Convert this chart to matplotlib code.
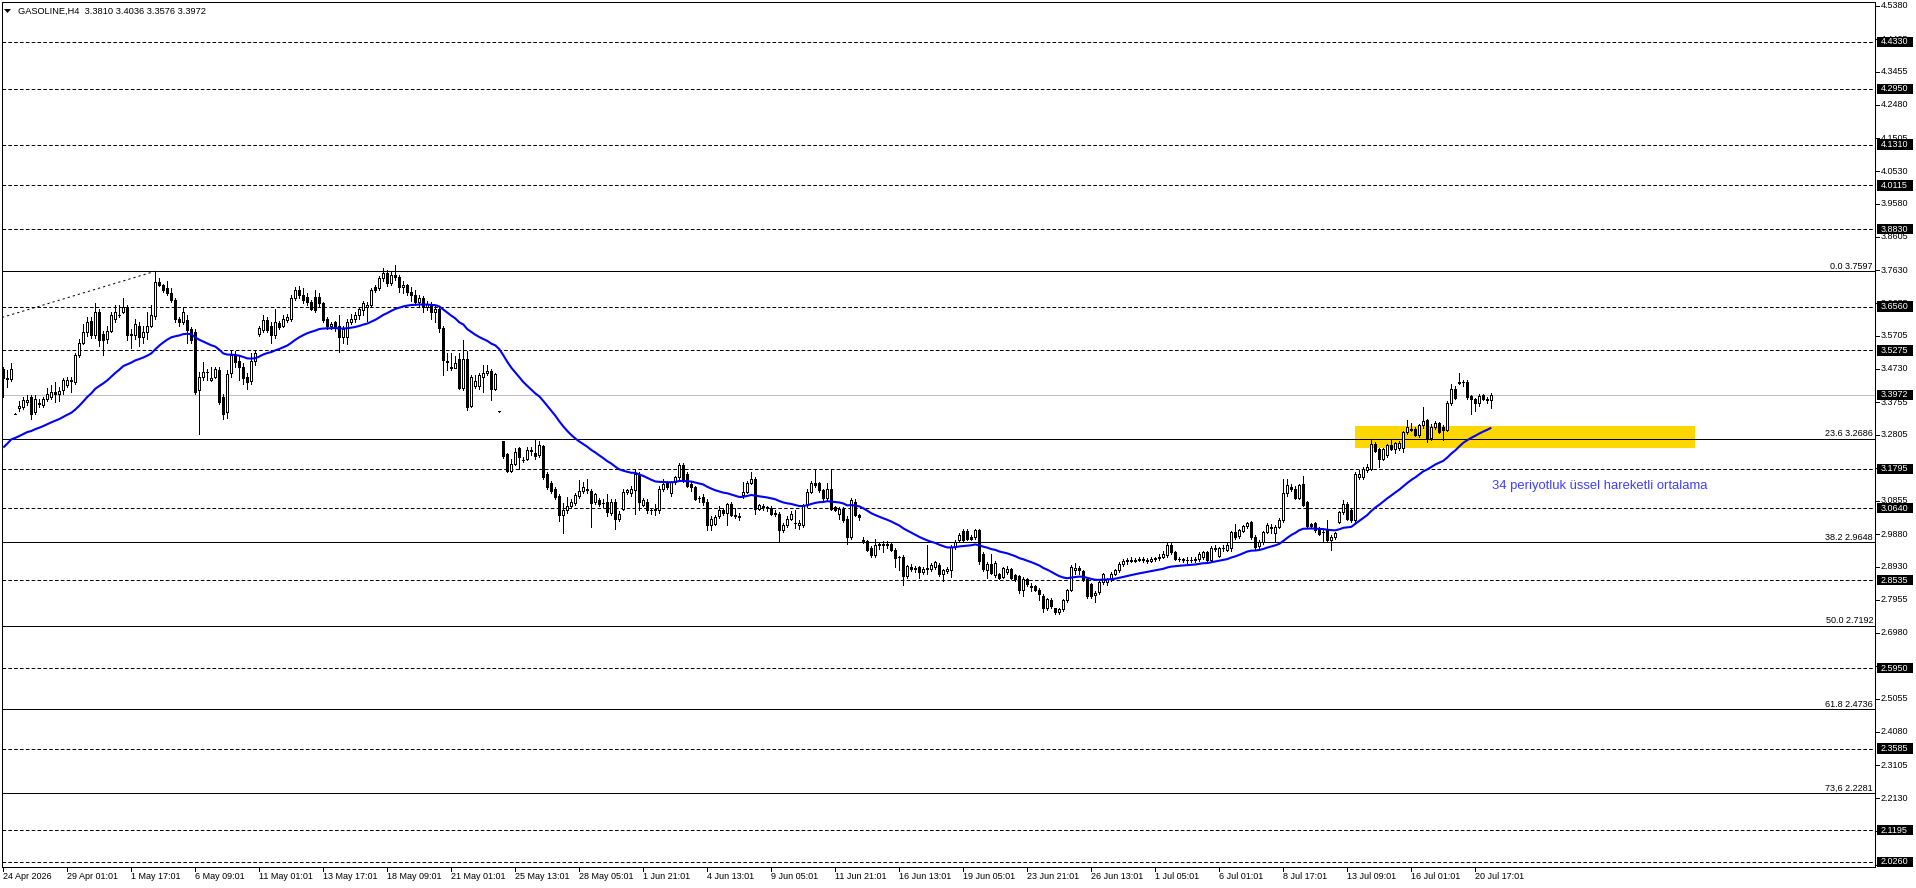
import numpy as np
import matplotlib.pyplot as plt
from matplotlib.patches import Rectangle, Polygon

plt.rcParams['font.family'] = ['Liberation Sans', 'DejaVu Sans']
plt.rcParams['lines.scale_dashes'] = False

# --- data: GASOLINE H4 candles ---
opens = [
    3.474, 3.445, 3.443, 3.342, 3.357, 3.362, 3.376, 3.391, 3.347, 3.374,
    3.366, 3.385, 3.390, 3.405, 3.400, 3.410, 3.425, 3.440, 3.435, 3.513,
    3.550, 3.580, 3.614, 3.572, 3.640, 3.575, 3.560, 3.585, 3.620, 3.632,
    3.640, 3.655, 3.572, 3.572, 3.600, 3.567, 3.582, 3.600, 3.628, 3.729,
    3.720, 3.710, 3.695, 3.675, 3.620, 3.612, 3.617, 3.590, 3.580, 3.410,
    3.450, 3.465, 3.440, 3.450, 3.470, 3.390, 3.347, 3.460, 3.510, 3.497,
    3.480, 3.450, 3.437, 3.496, 3.574, 3.586, 3.616, 3.600, 3.572, 3.607,
    3.600, 3.617, 3.620, 3.680, 3.704, 3.690, 3.684, 3.670, 3.685, 3.684,
    3.665, 3.620, 3.600, 3.610, 3.600, 3.567, 3.567, 3.610, 3.620, 3.630,
    3.645, 3.655, 3.660, 3.712, 3.710, 3.740, 3.755, 3.725, 3.750, 3.742,
    3.712, 3.718, 3.700, 3.690, 3.668, 3.682, 3.655, 3.664, 3.640, 3.650,
    3.592, 3.497, 3.480, 3.477, 3.503, 3.418, 3.503, 3.364, 3.423, 3.422,
    3.450, 3.460, 3.467, 3.415, 3.349, 3.261, 3.222, 3.173, 3.195, 3.240,
    3.207, 3.210, 3.234, 3.227, 3.219, 3.246, 3.165, 3.138, 3.120, 3.100,
    3.043, 3.058, 3.072, 3.080, 3.100, 3.114, 3.120, 3.115, 3.082, 3.088,
    3.080, 3.083, 3.050, 3.083, 3.033, 3.063, 3.112, 3.108, 3.117, 3.166,
    3.075, 3.083, 3.058, 3.058, 3.058, 3.122, 3.138, 3.110, 3.140, 3.156,
    3.192, 3.166, 3.134, 3.127, 3.093, 3.098, 3.083, 3.014, 3.018, 3.040,
    3.058, 3.050, 3.077, 3.045, 3.040, 3.102, 3.112, 3.139, 3.151, 3.063,
    3.070, 3.068, 3.065, 3.048, 3.048, 2.999, 3.014, 3.034, 3.022, 3.014,
    3.014, 3.073, 3.112, 3.137, 3.137, 3.117, 3.093, 3.122, 3.068, 3.048,
    3.063, 3.034, 2.980, 3.083, 3.044, 2.972, 2.967, 2.948, 2.926, 2.955,
    2.957, 2.958, 2.958, 2.943, 2.920, 2.922, 2.864, 2.893, 2.886, 2.892,
    2.877, 2.887, 2.887, 2.892, 2.897, 2.872, 2.879, 2.884, 2.950, 2.970,
    2.996, 2.996, 2.980, 2.980, 3.000, 2.930, 2.882, 2.901, 2.868, 2.870,
    2.862, 2.878, 2.885, 2.867, 2.864, 2.823, 2.857, 2.833, 2.836, 2.825,
    2.808, 2.770, 2.796, 2.770, 2.760, 2.767, 2.794, 2.825, 2.884, 2.888,
    2.880, 2.857, 2.842, 2.810, 2.817, 2.848, 2.848, 2.855, 2.872, 2.882,
    2.901, 2.908, 2.912, 2.910, 2.913, 2.914, 2.911, 2.909, 2.915, 2.917,
    2.921, 2.926, 2.955, 2.935, 2.916, 2.914, 2.911, 2.913, 2.912, 2.914,
    2.920, 2.935, 2.911, 2.944, 2.925, 2.946, 2.943, 2.946, 2.995, 2.982,
    2.998, 3.011, 3.023, 2.980, 2.952, 2.965, 2.995, 3.010, 2.992, 3.010,
    3.031, 3.109, 3.125, 3.122, 3.093, 3.134, 3.082, 3.018, 3.021, 3.004,
    2.995, 3.000, 2.970, 2.980, 3.024, 3.053, 3.078, 3.058, 3.030, 3.156,
    3.156, 3.176, 3.180, 3.252, 3.239, 3.210, 3.220, 3.249, 3.239, 3.240,
    3.240, 3.288, 3.298, 3.298, 3.279, 3.308, 3.323, 3.269, 3.303, 3.313,
    3.303, 3.295, 3.373, 3.415, 3.432, 3.435, 3.435, 3.393, 3.386, 3.373,
    3.396, 3.384, 3.3810,
]
highs = [
    3.480, 3.470, 3.490, 3.344, 3.378, 3.390, 3.395, 3.395, 3.396, 3.386,
    3.390, 3.418, 3.426, 3.435, 3.420, 3.447, 3.450, 3.450, 3.520, 3.560,
    3.605, 3.625, 3.625, 3.665, 3.650, 3.585, 3.600, 3.640, 3.660, 3.660,
    3.680, 3.660, 3.590, 3.620, 3.610, 3.600, 3.640, 3.660, 3.760, 3.740,
    3.722, 3.730, 3.710, 3.680, 3.625, 3.655, 3.630, 3.595, 3.590, 3.465,
    3.494, 3.474, 3.480, 3.480, 3.480, 3.400, 3.470, 3.525, 3.525, 3.510,
    3.490, 3.460, 3.520, 3.525, 3.600, 3.630, 3.625, 3.610, 3.650, 3.615,
    3.632, 3.635, 3.690, 3.712, 3.715, 3.710, 3.695, 3.675, 3.705, 3.695,
    3.670, 3.625, 3.610, 3.615, 3.630, 3.600, 3.620, 3.635, 3.640, 3.655,
    3.672, 3.670, 3.710, 3.720, 3.745, 3.770, 3.762, 3.760, 3.778, 3.750,
    3.730, 3.722, 3.712, 3.705, 3.690, 3.688, 3.672, 3.668, 3.660, 3.655,
    3.600, 3.520, 3.520, 3.510, 3.520, 3.557, 3.527, 3.455, 3.455, 3.460,
    3.484, 3.484, 3.474, 3.460, 3.350, 3.262, 3.225, 3.210, 3.240, 3.245,
    3.215, 3.245, 3.245, 3.265, 3.260, 3.250, 3.170, 3.145, 3.125, 3.105,
    3.080, 3.097, 3.090, 3.110, 3.146, 3.140, 3.150, 3.120, 3.110, 3.095,
    3.090, 3.107, 3.090, 3.090, 3.055, 3.120, 3.122, 3.130, 3.175, 3.170,
    3.095, 3.090, 3.066, 3.078, 3.130, 3.150, 3.145, 3.145, 3.160, 3.197,
    3.197, 3.170, 3.140, 3.130, 3.100, 3.107, 3.090, 3.040, 3.045, 3.070,
    3.065, 3.080, 3.082, 3.065, 3.050, 3.140, 3.143, 3.171, 3.155, 3.078,
    3.078, 3.072, 3.070, 3.058, 3.052, 3.020, 3.040, 3.055, 3.058, 3.030,
    3.078, 3.120, 3.145, 3.176, 3.142, 3.120, 3.137, 3.176, 3.072, 3.068,
    3.068, 3.040, 3.093, 3.090, 3.048, 2.980, 2.972, 2.952, 2.975, 2.965,
    2.968, 2.968, 2.962, 2.948, 2.925, 2.926, 2.898, 2.900, 2.895, 2.896,
    2.892, 2.955, 2.902, 2.910, 2.902, 2.885, 2.892, 2.955, 2.970, 2.990,
    3.004, 3.002, 2.985, 3.004, 3.004, 2.935, 2.905, 2.930, 2.908, 2.875,
    2.892, 2.895, 2.890, 2.870, 2.868, 2.862, 2.860, 2.845, 2.840, 2.830,
    2.812, 2.802, 2.800, 2.772, 2.770, 2.798, 2.828, 2.897, 2.902, 2.896,
    2.884, 2.862, 2.846, 2.820, 2.850, 2.875, 2.860, 2.878, 2.885, 2.905,
    2.915, 2.918, 2.922, 2.918, 2.922, 2.920, 2.918, 2.920, 2.922, 2.930,
    2.940, 2.962, 2.962, 2.938, 2.922, 2.918, 2.920, 2.920, 2.922, 2.935,
    2.940, 2.938, 2.952, 2.955, 2.950, 2.955, 2.965, 2.998, 3.018, 3.003,
    3.015, 3.025, 3.028, 2.985, 2.970, 2.998, 3.020, 3.018, 3.015, 3.035,
    3.150, 3.150, 3.135, 3.130, 3.135, 3.160, 3.085, 3.022, 3.025, 3.008,
    3.000, 3.030, 2.985, 2.995, 3.055, 3.088, 3.082, 3.065, 3.170, 3.175,
    3.185, 3.195, 3.264, 3.258, 3.242, 3.242, 3.252, 3.264, 3.258, 3.260,
    3.292, 3.323, 3.313, 3.302, 3.312, 3.362, 3.326, 3.310, 3.320, 3.318,
    3.308, 3.380, 3.430, 3.422, 3.460, 3.441, 3.440, 3.395, 3.388, 3.400,
    3.398, 3.391, 3.4036,
]
lows = [
    3.392, 3.420, 3.438, 3.340, 3.350, 3.356, 3.368, 3.327, 3.340, 3.362,
    3.360, 3.378, 3.385, 3.376, 3.378, 3.400, 3.420, 3.405, 3.430, 3.507,
    3.545, 3.570, 3.565, 3.565, 3.540, 3.513, 3.550, 3.580, 3.610, 3.625,
    3.636, 3.557, 3.533, 3.560, 3.540, 3.550, 3.560, 3.595, 3.620, 3.715,
    3.700, 3.690, 3.670, 3.610, 3.600, 3.605, 3.548, 3.550, 3.400, 3.283,
    3.440, 3.440, 3.438, 3.445, 3.370, 3.327, 3.330, 3.450, 3.480, 3.440,
    3.430, 3.415, 3.430, 3.485, 3.570, 3.580, 3.580, 3.550, 3.565, 3.590,
    3.595, 3.610, 3.615, 3.675, 3.680, 3.665, 3.660, 3.645, 3.640, 3.655,
    3.610, 3.590, 3.590, 3.585, 3.523, 3.550, 3.545, 3.605, 3.610, 3.620,
    3.630, 3.615, 3.655, 3.700, 3.705, 3.730, 3.715, 3.720, 3.735, 3.700,
    3.695, 3.690, 3.672, 3.660, 3.655, 3.640, 3.645, 3.620, 3.610, 3.580,
    3.455, 3.470, 3.470, 3.475, 3.414, 3.410, 3.353, 3.360, 3.417, 3.415,
    3.405, 3.455, 3.383, 3.410, 3.348, 3.212, 3.170, 3.170, 3.190, 3.180,
    3.200, 3.205, 3.220, 3.210, 3.215, 3.150, 3.120, 3.110, 3.090, 3.028,
    2.990, 3.050, 3.065, 3.075, 3.095, 3.110, 3.110, 3.009, 3.078, 3.070,
    3.068, 3.040, 3.045, 3.004, 3.028, 3.060, 3.105, 3.100, 3.048, 3.060,
    3.070, 3.050, 3.048, 3.043, 3.050, 3.115, 3.120, 3.100, 3.135, 3.150,
    3.140, 3.125, 3.115, 3.087, 3.083, 3.073, 3.000, 2.999, 3.015, 3.035,
    3.045, 3.014, 3.040, 3.035, 3.030, 3.095, 3.108, 3.135, 3.048, 3.058,
    3.060, 3.055, 3.045, 3.040, 2.965, 2.995, 3.010, 3.030, 3.005, 3.002,
    3.010, 3.068, 3.108, 3.125, 3.112, 3.088, 3.088, 3.058, 3.055, 3.034,
    3.025, 2.960, 2.975, 3.040, 3.030, 2.962, 2.940, 2.920, 2.922, 2.945,
    2.935, 2.946, 2.938, 2.892, 2.882, 2.838, 2.860, 2.880, 2.878, 2.858,
    2.870, 2.872, 2.880, 2.885, 2.865, 2.852, 2.875, 2.862, 2.945, 2.965,
    2.965, 2.970, 2.970, 2.975, 2.900, 2.880, 2.858, 2.870, 2.862, 2.855,
    2.858, 2.870, 2.855, 2.850, 2.815, 2.808, 2.835, 2.822, 2.820, 2.794,
    2.760, 2.765, 2.770, 2.755, 2.755, 2.764, 2.790, 2.820, 2.872, 2.870,
    2.850, 2.800, 2.800, 2.789, 2.812, 2.842, 2.840, 2.850, 2.868, 2.878,
    2.895, 2.900, 2.905, 2.905, 2.908, 2.905, 2.902, 2.905, 2.908, 2.912,
    2.918, 2.920, 2.930, 2.912, 2.908, 2.905, 2.902, 2.905, 2.905, 2.910,
    2.915, 2.905, 2.908, 2.938, 2.920, 2.940, 2.938, 2.940, 2.975, 2.978,
    2.995, 3.006, 2.975, 2.945, 2.945, 2.960, 2.990, 2.990, 2.965, 3.005,
    3.025, 3.100, 3.115, 3.090, 3.090, 3.070, 3.006, 3.006, 2.995, 2.985,
    2.965, 2.968, 2.943, 2.975, 3.020, 3.048, 3.030, 3.025, 3.025, 3.150,
    3.150, 3.170, 3.175, 3.228, 3.185, 3.205, 3.215, 3.235, 3.225, 3.235,
    3.230, 3.282, 3.290, 3.275, 3.272, 3.300, 3.258, 3.265, 3.298, 3.285,
    3.265, 3.290, 3.368, 3.385, 3.428, 3.422, 3.385, 3.340, 3.350, 3.365,
    3.382, 3.373, 3.3576,
]
closes = [
    3.445, 3.443, 3.474, 3.342, 3.365, 3.381, 3.381, 3.342, 3.386, 3.370,
    3.386, 3.400, 3.405, 3.400, 3.408, 3.440, 3.440, 3.438, 3.513, 3.550,
    3.582, 3.612, 3.572, 3.640, 3.557, 3.557, 3.585, 3.630, 3.640, 3.630,
    3.655, 3.572, 3.574, 3.606, 3.567, 3.582, 3.600, 3.630, 3.729, 3.720,
    3.705, 3.695, 3.675, 3.620, 3.612, 3.640, 3.588, 3.557, 3.405, 3.450,
    3.465, 3.463, 3.447, 3.474, 3.376, 3.342, 3.459, 3.513, 3.494, 3.480,
    3.445, 3.435, 3.496, 3.520, 3.592, 3.616, 3.587, 3.572, 3.611, 3.597,
    3.620, 3.626, 3.680, 3.704, 3.690, 3.675, 3.670, 3.650, 3.645, 3.665,
    3.616, 3.600, 3.605, 3.596, 3.567, 3.590, 3.611, 3.620, 3.630, 3.650,
    3.665, 3.660, 3.704, 3.704, 3.740, 3.755, 3.725, 3.750, 3.742, 3.712,
    3.718, 3.700, 3.690, 3.668, 3.682, 3.655, 3.664, 3.640, 3.650, 3.592,
    3.499, 3.494, 3.476, 3.489, 3.418, 3.503, 3.360, 3.450, 3.437, 3.455,
    3.462, 3.466, 3.415, 3.457, 3.349, 3.217, 3.173, 3.195, 3.230, 3.215,
    3.207, 3.235, 3.232, 3.217, 3.249, 3.156, 3.127, 3.115, 3.097, 3.043,
    3.058, 3.072, 3.082, 3.102, 3.114, 3.125, 3.117, 3.080, 3.105, 3.078,
    3.079, 3.053, 3.083, 3.033, 3.048, 3.112, 3.117, 3.120, 3.166, 3.083,
    3.087, 3.058, 3.058, 3.062, 3.122, 3.136, 3.127, 3.140, 3.156, 3.192,
    3.146, 3.130, 3.125, 3.092, 3.093, 3.083, 3.014, 3.034, 3.038, 3.058,
    3.050, 3.077, 3.043, 3.040, 3.038, 3.112, 3.139, 3.151, 3.063, 3.073,
    3.068, 3.065, 3.048, 3.050, 2.999, 3.014, 3.034, 3.048, 3.020, 3.021,
    3.073, 3.112, 3.137, 3.131, 3.117, 3.093, 3.122, 3.063, 3.060, 3.063,
    3.029, 2.980, 3.088, 3.044, 3.037, 2.966, 2.943, 2.926, 2.955, 2.958,
    2.959, 2.957, 2.943, 2.919, 2.922, 2.864, 2.894, 2.886, 2.888, 2.877,
    2.887, 2.888, 2.897, 2.907, 2.872, 2.882, 2.887, 2.950, 2.966, 2.985,
    2.970, 2.975, 2.975, 2.999, 2.909, 2.887, 2.901, 2.875, 2.904, 2.860,
    2.888, 2.886, 2.860, 2.855, 2.823, 2.857, 2.842, 2.835, 2.824, 2.812,
    2.770, 2.799, 2.776, 2.760, 2.767, 2.794, 2.825, 2.891, 2.890, 2.882,
    2.855, 2.806, 2.806, 2.815, 2.848, 2.872, 2.855, 2.872, 2.882, 2.901,
    2.908, 2.912, 2.910, 2.913, 2.914, 2.911, 2.909, 2.915, 2.917, 2.921,
    2.930, 2.955, 2.935, 2.916, 2.914, 2.911, 2.913, 2.912, 2.916, 2.930,
    2.935, 2.911, 2.946, 2.947, 2.947, 2.948, 2.955, 2.995, 2.980, 2.999,
    3.011, 3.021, 2.980, 2.950, 2.965, 2.995, 3.016, 3.005, 3.010, 3.031,
    3.109, 3.131, 3.122, 3.093, 3.131, 3.073, 3.011, 3.011, 2.999, 2.988,
    2.994, 2.970, 2.980, 2.990, 3.053, 3.078, 3.034, 3.031, 3.166, 3.166,
    3.180, 3.185, 3.254, 3.232, 3.210, 3.239, 3.249, 3.239, 3.256, 3.256,
    3.288, 3.303, 3.293, 3.279, 3.308, 3.321, 3.269, 3.303, 3.313, 3.288,
    3.293, 3.373, 3.415, 3.389, 3.435, 3.434, 3.391, 3.386, 3.373, 3.393,
    3.385, 3.382, 3.3972,
]

ema_period = 34
ema_seed = 3.23          # EMA value at the left edge of the chart

time_labels = ["24 Apr 2026", "29 Apr 01:01", "1 May 17:01", "6 May 09:01",
               "11 May 01:01", "13 May 17:01", "18 May 09:01", "21 May 01:01",
               "25 May 13:01", "28 May 05:01", "1 Jun 21:01", "4 Jun 13:01",
               "9 Jun 05:01", "11 Jun 21:01", "16 Jun 13:01", "19 Jun 05:01",
               "23 Jun 21:01", "26 Jun 13:01", "1 Jul 05:01", "6 Jul 01:01",
               "8 Jul 17:01", "13 Jul 09:01", "16 Jul 01:01", "20 Jul 17:01"]
bars_per_label = 16

price_ticks = [4.5380, 4.4405, 4.3455, 4.2480, 4.1505, 4.0530, 3.9580, 3.8605,
               3.7630, 3.6655, 3.5705, 3.4730, 3.3755, 3.2805, 3.1830, 3.0855,
               2.9880, 2.8930, 2.7955, 2.6980, 2.6005, 2.5055, 2.4080, 2.3105,
               2.2130, 2.1155, 2.0180]
dashed_levels = [4.4330, 4.2950, 4.1310, 4.0115, 3.8830, 3.6560, 3.5275, 3.1795,
                 3.0640, 2.8535, 2.5950, 2.3585, 2.1195, 2.0260]
fib_names = ["0.0", "23.6", "38.2", "50.0", "61.8", "73,6"]
fib_levels = [3.7597, 3.2686, 2.9648, 2.7192, 2.4736, 2.2281]
bid_price = 3.3972
fib_anchor_bars = [-0.33, 38]
fib_anchor_prices = [3.624, 3.7597]
zone_bars = [338, 423]
zone_prices = [3.241, 3.306]
header = "GASOLINE,H4  3.3810 3.4036 3.3576 3.3972"
ema_note = "34 periyotluk üssel hareketli ortalama"

# --- figure in pixel layout ---
W, H = 1916, 888
fig = plt.figure(figsize=(W / 100, H / 100), dpi=100)
fig.patch.set_facecolor('white')
L, R, T, B = 2, 1875, 2, 867
ax = fig.add_axes([L / W, 1 - B / H, (R - L) / W, (B - T) / H])
aw, ah = R - L, B - T
ax.set_xlim(-0.33, -0.33 + aw / 4.0)
ax.set_ylim(2.0113, 2.0113 + ah * 0.0029346)
ax.set_xticks([])
ax.set_yticks([])
for s in ax.spines.values():
    s.set_linewidth(0.75)
    s.set_color('black')

o = np.array(opens); h = np.array(highs); lo = np.array(lows); c = np.array(closes)
x = np.arange(len(c))

# levels
for p in dashed_levels:
    ax.axhline(p, color='black', lw=0.72, ls=(0, (2.6, 1.6)), zorder=2)
for p in fib_levels:
    ax.axhline(p, color='black', lw=0.72, zorder=2)
ax.axhline(bid_price, color='#c0c0c0', lw=0.72, zorder=2)
ax.plot(fib_anchor_bars, fib_anchor_prices, color='black', lw=0.72,
        ls=(0, (1.6, 2.2)), zorder=2)

ax.add_patch(Rectangle((zone_bars[0], zone_prices[0]), zone_bars[1] - zone_bars[0],
                       zone_prices[1] - zone_prices[0], facecolor='#ffd700',
                       edgecolor='none', zorder=1.5))

# candles
ax.vlines(x, lo, h, colors='black', lw=0.72, zorder=3, antialiased=False)
up = c >= o
ax.bar(x, np.abs(c - o), bottom=np.minimum(o, c), width=0.5,
       color=np.where(up, 'white', 'black'), edgecolor='black', linewidth=0.72,
       zorder=4, antialiased=False)

# EMA 34
alpha = 2.0 / (ema_period + 1)
ema = np.empty(len(c))
prev = ema_seed
for i, v in enumerate(c):
    prev = prev + alpha * (v - prev)
    ema[i] = prev
ax.plot(x, ema, color='#0000ff', lw=1.5, zorder=5, solid_capstyle='butt')

ax.text(372.2, 3.130, ema_note, color='#3f3fff', fontsize=9.4,
        va='center', ha='left', zorder=6)

# fib labels
for name, p in zip(fib_names, fib_levels):
    ax.text((R - 2 - L) / aw, p + 0.0015, f"{name} {p:.4f}",
            transform=ax.get_yaxis_transform(), ha='right', va='bottom',
            fontsize=6.5, zorder=6)

# right price axis
ytr = ax.get_yaxis_transform()
for p in price_ticks:
    ax.plot([1, 1 + 4 / aw], [p, p], color='black', lw=0.72, transform=ytr,
            clip_on=False, zorder=6)
    ax.text(1 + 6 / aw, p, f"{p:.4f}", transform=ytr, ha='left', va='center',
            fontsize=6.5, clip_on=False, zorder=6)
for p in dashed_levels + [bid_price]:
    ax.add_patch(Rectangle((1 + 2 / aw, p - 5.2 * 0.0029346), 36 / aw,
                           10.4 * 0.0029346, transform=ytr, facecolor='black',
                           edgecolor='none', clip_on=False, zorder=7))
    ax.text(1 + 6 / aw, p, f"{p:.4f}", transform=ytr, ha='left', va='center',
            fontsize=6.5, color='white', clip_on=False, zorder=8)

# time axis
xtr = ax.get_xaxis_transform()
for k, lab in enumerate(time_labels):
    b = k * bars_per_label
    ax.plot([b, b], [0, -4 / ah], color='black', lw=0.72, transform=xtr,
            clip_on=False, zorder=6)
    ax.text(b - 0.2, -9.5 / ah, lab, transform=xtr, ha='left', va='center',
            fontsize=6.5, clip_on=False)

# header
fig.text(18 / W, 1 - 11 / H, header, fontsize=6.7, va='center', ha='left')
fig.add_artist(Polygon([[4 / W, 1 - 9 / H], [11 / W, 1 - 9 / H], [7.5 / W, 1 - 13 / H]],
                       closed=True, facecolor='black', edgecolor='none',
                       transform=fig.transFigure))

fig.savefig('out.png', dpi=100)
